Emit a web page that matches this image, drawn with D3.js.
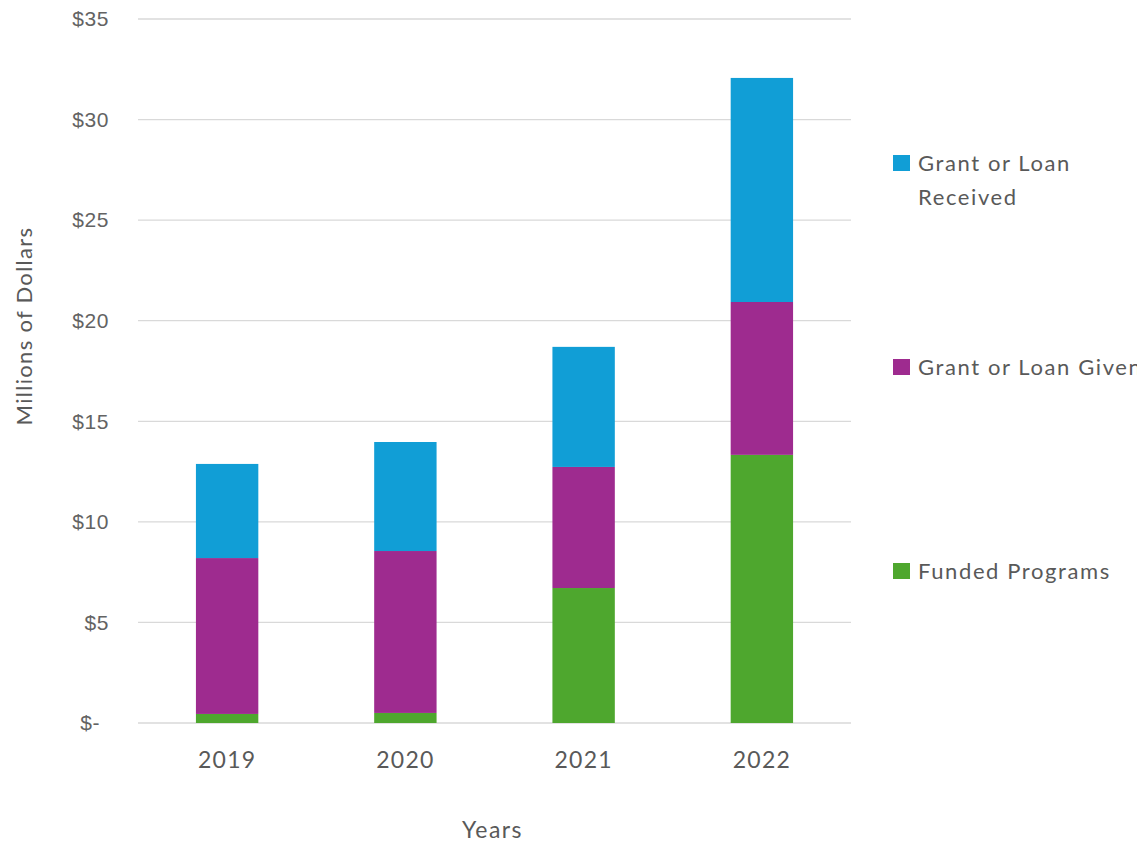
<!DOCTYPE html>
<html>
<head>
<meta charset="utf-8">
<script src="https://cdn.jsdelivr.net/npm/d3@7"></script>
<style>
  body { margin: 0; background: #fff; }
  svg { display: block; }
</style>
</head>
<body>
<div id="chart"></div>
<script>
// chart values (millions of dollars)
const years = ['2019', '2020', '2021', '2022'];
const fundedPrograms = [0.45, 0.5, 6.71, 13.33];
const grantGiven = [7.75, 8.05, 6.02, 7.6];
const grantReceived = [4.68, 5.42, 5.97, 11.14];
const yTicks = [0, 5, 10, 15, 20, 25, 30, 35];

const seriesNames = ['Funded Programs', 'Grant or Loan Given', 'Grant or Loan Received'];
const colors = ['#4ea72e', '#9e2b8f', '#119ed6'];

const width = 1137, height = 843;
const margin = {top: 19, right: 286, bottom: 120, left: 138};

const rows = years.map((y, i) => ({
    year: y,
    'Funded Programs': fundedPrograms[i],
    'Grant or Loan Given': grantGiven[i],
    'Grant or Loan Received': grantReceived[i]
}));

const stacked = d3.stack().keys(seriesNames)(rows);

const svg = d3.select('#chart').append('svg')
    .attr('width', width)
    .attr('height', height);

const x = d3.scaleBand()
    .domain(years)
    .range([margin.left, width - margin.right])
    .paddingInner(0.65)
    .paddingOuter(0.325);

const y = d3.scaleLinear()
    .domain([0, 35])
    .range([height - margin.bottom, margin.top]);

// gridlines
svg.append('g')
    .selectAll('line')
    .data(yTicks)
    .join('line')
    .attr('x1', margin.left)
    .attr('x2', width - margin.right)
    .attr('y1', d => y(d))
    .attr('y2', d => y(d))
    .attr('stroke', '#d9d9d9')
    .attr('stroke-width', 1.3);

// y tick labels
const yAxis = d3.axisLeft(y)
    .tickValues(yTicks)
    .tickSize(0)
    .tickPadding(0)
    .tickFormat(d => d === 0 ? '$-' : '$' + d);

svg.append('g')
    .attr('transform', `translate(109,0)`)
    .call(yAxis)
    .call(g => g.select('.domain').remove())
    .call(g => g.selectAll('text')
        .attr('fill', '#636363')
        .attr('font-family', '"Liberation Sans", Arial, sans-serif')
        .attr('font-size', '21px')
        .attr('letter-spacing', '0.6px')
        .attr('dx', d => d === 0 ? -9 : 0));

// x tick labels
const xAxis = d3.axisBottom(x).tickSize(0).tickPadding(0);
svg.append('g')
    .attr('transform', `translate(0,${height - margin.bottom + 28})`)
    .call(xAxis)
    .call(g => g.select('.domain').remove())
    .call(g => g.selectAll('text')
        .attr('fill', '#595959')
        .attr('font-family', 'Lato, sans-serif')
        .attr('font-size', '23px')
        .attr('letter-spacing', '1.2px')
        .attr('dy', '0.72em'));

// bars
svg.append('g')
    .selectAll('g')
    .data(stacked)
    .join('g')
    .attr('fill', (d, i) => colors[i])
    .selectAll('rect')
    .data(d => d)
    .join('rect')
    .attr('x', d => x(d.data.year))
    .attr('width', x.bandwidth())
    .attr('y', d => y(d[1]))
    .attr('height', d => y(d[0]) - y(d[1]));

// axis titles
svg.append('text')
    .attr('transform', `translate(32,${(y(0) + y(35)) / 2 - 45}) rotate(-90)`)
    .attr('text-anchor', 'middle')
    .attr('fill', '#595959')
    .attr('font-family', 'Lato, sans-serif')
    .attr('font-size', '22px')
    .attr('letter-spacing', '1.3px')
    .text('Millions of Dollars');

svg.append('text')
    .attr('x', (margin.left + width - margin.right) / 2 - 2)
    .attr('y', 838)
    .attr('text-anchor', 'middle')
    .attr('fill', '#595959')
    .attr('font-family', 'Lato, sans-serif')
    .attr('font-size', '23px')
    .attr('letter-spacing', '1.5px')
    .text('Years');

// legend
const legendItems = [
    {name: 'Grant or Loan Received', lines: ['Grant or Loan', 'Received'], color: colors[2], top: 155},
    {name: 'Grant or Loan Given', lines: ['Grant or Loan Given'], color: colors[1], top: 359},
    {name: 'Funded Programs', lines: ['Funded Programs'], color: colors[0], top: 563}
];

const legend = svg.append('g');
const item = legend.selectAll('g')
    .data(legendItems)
    .join('g')
    .attr('transform', d => `translate(893,${d.top})`);

item.append('rect')
    .attr('width', 17)
    .attr('height', 16)
    .attr('fill', d => d.color);

item.append('text')
    .attr('fill', '#595959')
    .attr('font-family', 'Lato, sans-serif')
    .attr('font-size', '22px')
    .attr('letter-spacing', '1.6px')
    .selectAll('tspan')
    .data(d => d.lines)
    .join('tspan')
    .attr('x', 25)
    .attr('y', (d, i) => 16 + i * 34)
    .text(d => d);
</script>
</body>
</html>
